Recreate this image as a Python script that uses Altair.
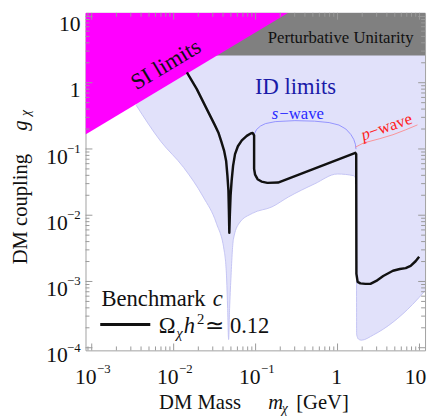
import altair as alt
import pandas as pd

# ---------------- data ----------------
x_domain = [8.4e-4, 11.7]      # m_chi [GeV]
y_domain = [9.12e-5, 11.35]    # g_chi

# relic density curve, Benchmark c (Omega h^2 ~ 0.12)
relic_m = [0.0145, 0.0191, 0.0252, 0.0317, 0.0351, 0.0381, 0.0414, 0.0437, 0.0453, 0.0466, 0.0472, 0.0478,
           0.0485, 0.0495, 0.0510, 0.0531, 0.0561, 0.0608, 0.0679, 0.0780, 0.0871, 0.0920, 0.0959,
           0.0959, 0.0986, 0.1057, 0.1181, 0.1393, 0.188, 1.65, 1.69, 1.70, 1.76, 1.90, 2.19, 2.52,
           2.97, 3.61, 4.75, 5.76, 6.79, 7.80, 8.96, 9.91]
relic_g = [1.43, 0.807, 0.407, 0.231, 0.1775, 0.1305, 0.0927, 0.0659, 0.0395, 0.0237, 0.01194, 0.00544,
           0.01007, 0.01995, 0.0333, 0.0556, 0.0837, 0.110, 0.135, 0.1575, 0.1716, 0.1745, 0.160,
           0.0501, 0.0409, 0.0350, 0.0322, 0.0308, 0.0311, 0.0875, 0.0837, 0.0013, 0.000986, 0.000937, 0.00092, 0.00092,
           0.00102, 0.00121, 0.00145, 0.00154, 0.00159, 0.00172, 0.00202, 0.00237]

# indirect-detection excluded region (lower boundary; excluded above)
id_m = [0.003487, 0.00695, 0.01324, 0.0230, 0.0332, 0.0417, 0.04432, 0.04558,
        0.04685, 0.04816, 0.04992, 0.0535, 0.0631, 0.0912, 0.1585, 0.2506,
        0.524, 0.995, 1.577, 1.66, 1.70, 1.71, 1.80, 1.95, 2.74, 4.75, 8.24, 11.7]
id_g = [0.457, 0.1305, 0.0525, 0.0188, 0.00758, 0.00272, 0.00109, 0.000392,
        0.000133, 0.000392, 0.00109, 0.00428, 0.00758, 0.01067, 0.01337, 0.0188,
        0.0297, 0.0419, 0.0395, 0.036, 0.02, 0.00016, 0.000135, 0.00013,
        0.000156, 0.000243, 0.00045, 0.000726]

# s-wave / p-wave guide lines
sw_m = [0.0959, 0.1028, 0.1148, 0.132, 0.1738, 0.3013, 0.524, 0.791, 1.042, 1.264, 1.451, 1.577, 1.652, 1.68]
sw_g = [0.166, 0.197, 0.222, 0.2415, 0.2585, 0.2677, 0.263, 0.250, 0.2295, 0.200, 0.166, 0.1397, 0.1178, 0.0993]
pw_m = [1.652, 2.076, 3.29, 4.75, 6.79, 9.46]
pw_g = [0.1064, 0.1231, 0.1432, 0.1641, 0.1946, 0.2310]

# SI limit edge (excluded above) and perturbative unitarity bound
si_m = [8.4e-4, 0.2506]
si_g = [0.166, 11.35]
pu_m = [0.03, 11.7]
pu_g = [2.58, 2.58]

# ticks
x_major = [1e-3, 1e-2, 1e-1, 1.0, 10.0]
y_major = [1e-4, 1e-3, 1e-2, 1e-1, 1.0, 10.0]
x_minor = [k * 10.0 ** e for e in range(-4, 2) for k in range(2, 10)
           if x_domain[0] <= k * 10.0 ** e <= x_domain[1]]
y_minor = [k * 10.0 ** e for e in range(-5, 2) for k in range(2, 10)
           if y_domain[0] <= k * 10.0 ** e <= y_domain[1]]
x_exp_vals = [1e-3, 1e-2, 1e-1]
x_exp_txt = ["\u22123", "\u22122", "\u22121"]
y_exp_vals = [1e-4, 1e-3, 1e-2, 1e-1]
y_exp_txt = ["\u22124", "\u22123", "\u22122", "\u22121"]
y_plain_vals = [1.0, 10.0]
y_plain_txt = ["1", "10"]

# ---------------- chart ----------------
W, H = 346, 344
FONT = "Liberation Serif"
TOP = y_domain[1]
xs = alt.Scale(type="log", domain=x_domain, nice=False)
ys = alt.Scale(type="log", domain=y_domain, nice=False)


def X(f="m"):
    return alt.X(f"{f}:Q", scale=xs, axis=None)


def Y(f="g"):
    return alt.Y(f"{f}:Q", scale=ys, axis=None)


def curve(ms, gs):
    return pd.DataFrame({"m": ms, "g": gs, "i": list(range(len(ms))), "top": TOP})


layers = []

# ID region
id_df = curve(id_m, id_g)
layers.append(alt.Chart(id_df).mark_area(color="#E1E1FA", clip=True, interpolate="monotone").encode(
    x=X(), y=Y(), y2=alt.Y2("top")))
layers.append(alt.Chart(id_df).mark_line(color="#C4C4F4", strokeWidth=1, clip=True, interpolate="monotone").encode(
    x=X(), y=Y(), order="i:Q"))
# perturbative unitarity
layers.append(alt.Chart(curve(pu_m, pu_g)).mark_area(color="#808080", clip=True).encode(
    x=X(), y=Y(), y2=alt.Y2("top")))
# SI limits
layers.append(alt.Chart(curve(si_m, si_g)).mark_area(color="#FF00FF", clip=True).encode(
    x=X(), y=Y(), y2=alt.Y2("top")))
# s-wave, p-wave guides
layers.append(alt.Chart(curve(sw_m, sw_g)).mark_line(color="#7F7FFF", strokeWidth=0.8, clip=True).encode(
    x=X(), y=Y(), order="i:Q"))
layers.append(alt.Chart(curve(pw_m, pw_g)).mark_line(color="#FF7F7F", strokeWidth=0.8, clip=True).encode(
    x=X(), y=Y(), order="i:Q"))
# relic curve
layers.append(alt.Chart(curve(relic_m, relic_g)).mark_line(color="#111111", strokeWidth=2.5, clip=True,
                                                           strokeJoin="round").encode(
    x=X(), y=Y(), order="i:Q"))


def label(text, x, y, size, color="#111111", italic=False, angle=0, align="left", baseline="alphabetic"):
    kw = dict(font=FONT, fontSize=size, color=color, align=align, baseline=baseline)
    if italic:
        kw["fontStyle"] = "italic"
    if angle:
        kw["angle"] = angle
    return alt.Chart(pd.DataFrame({"t": [text]})).mark_text(**kw).encode(
        x=alt.value(x), y=alt.value(y), text="t:N")


# annotations in plot
layers += [
    label("Perturbative Unitarity", 260, 26, 17, align="center", baseline="middle"),
    label("SI limits", 82, 53, 23, angle=329, align="center", baseline="middle"),
    label("ID limits", 214, 76, 23, color="#1A1AA8", align="center", baseline="middle"),
    label("s", 189.7, 107.7, 17, color="#2828FF", italic=True),
    label("\u2212wave", 197.5, 107.7, 17, color="#2828FF"),
    label("p", 283, 130, 17, color="#FF2020", italic=True, angle=341),
    label("\u2212wave", 291, 127.2, 17, color="#FF2020", angle=341),
    # legend
    label("Benchmark", 16.3, 298.7, 23),
    label("c", 129.7, 298.7, 23, italic=True),
    label("\u03a9", 74.7, 326, 23),
    label("\u03c7", 92.5, 331, 15, italic=True),
    label("h", 100, 326, 23, italic=True),
    label("2", 113.5, 317, 15),
    label("\u2243 0.12", 122, 326, 23),
    # x axis title
    label("DM Mass", 75, 403.7, 21),
    label("m", 186.3, 403.7, 21, italic=True),
    label("\u03c7", 200, 407.7, 14, italic=True),
    label("[GeV]", 214.7, 403.7, 21),
    # y axis title
    label("DM coupling", -60, 200, 21, angle=270, align="center"),
    label("g", -60, 115, 21, italic=True, angle=270, align="center"),
    label("\u03c7", -56.5, 102, 14, italic=True, angle=270, align="center"),
]

layers.append(alt.Chart(pd.DataFrame({"a": [0]})).mark_rule(color="#111111", strokeWidth=3).encode(
    x=alt.value(15), x2=alt.value(66), y=alt.value(317.7)))

# tick labels
tx = lambda vals, txt: pd.DataFrame({"v": vals, "t": txt})
layers += [
    alt.Chart(tx([1.0], ["1"])).mark_text(font=FONT, fontSize=22, align="center", dx=-1, color="#111").encode(
        x=X("v"), y=alt.value(H + 27), text="t:N"),
    alt.Chart(tx([10.0], ["10"])).mark_text(font=FONT, fontSize=22, align="center", dx=-4, color="#111").encode(
        x=X("v"), y=alt.value(H + 27), text="t:N"),
    alt.Chart(tx(x_exp_vals, ["10"] * 3)).mark_text(font=FONT, fontSize=22, align="right", dx=5, color="#111").encode(
        x=X("v"), y=alt.value(H + 27), text="t:N"),
    alt.Chart(tx(x_exp_vals, x_exp_txt)).mark_text(font=FONT, fontSize=13, align="left", dx=5.5, color="#111").encode(
        x=X("v"), y=alt.value(H + 19), text="t:N"),
    alt.Chart(tx(y_plain_vals, y_plain_txt)).mark_text(font=FONT, fontSize=22, align="right", dy=8, color="#111").encode(
        y=Y("v"), x=alt.value(-5), text="t:N"),
    alt.Chart(tx(y_exp_vals, ["10"] * 4)).mark_text(font=FONT, fontSize=22, align="right", dy=8, color="#111").encode(
        y=Y("v"), x=alt.value(-18), text="t:N"),
    alt.Chart(tx(y_exp_vals, y_exp_txt)).mark_text(font=FONT, fontSize=13, align="right", dy=0, color="#111").encode(
        y=Y("v"), x=alt.value(-5), text="t:N"),
]

# frame ticks (inward, all four sides)
TC = "#999999"
for vals, ln in ((x_major, 7), (x_minor, 4)):
    d = pd.DataFrame({"v": vals})
    layers.append(alt.Chart(d).mark_rule(color=TC, strokeWidth=1).encode(
        x=X("v"), y=alt.value(H), y2=alt.value(H - ln)))
    layers.append(alt.Chart(d).mark_rule(color=TC, strokeWidth=1).encode(
        x=X("v"), y=alt.value(0), y2=alt.value(ln)))
for vals, ln in ((y_major, 7), (y_minor, 4)):
    d = pd.DataFrame({"v": vals})
    layers.append(alt.Chart(d).mark_rule(color=TC, strokeWidth=1).encode(
        y=Y("v"), x=alt.value(0), x2=alt.value(ln)))
    layers.append(alt.Chart(d).mark_rule(color=TC, strokeWidth=1).encode(
        y=Y("v"), x=alt.value(W), x2=alt.value(W - ln)))

chart = alt.layer(*layers).properties(
    width=W, height=H,
    padding={"left": 79, "top": 1, "right": 3, "bottom": 65},
    autosize=alt.AutoSizeParams(type="none"),
    background="white",
).configure_view(stroke="#A0A0A0", strokeWidth=1)

chart.save("out.html", embed_options={"renderer": "svg", "actions": False})
